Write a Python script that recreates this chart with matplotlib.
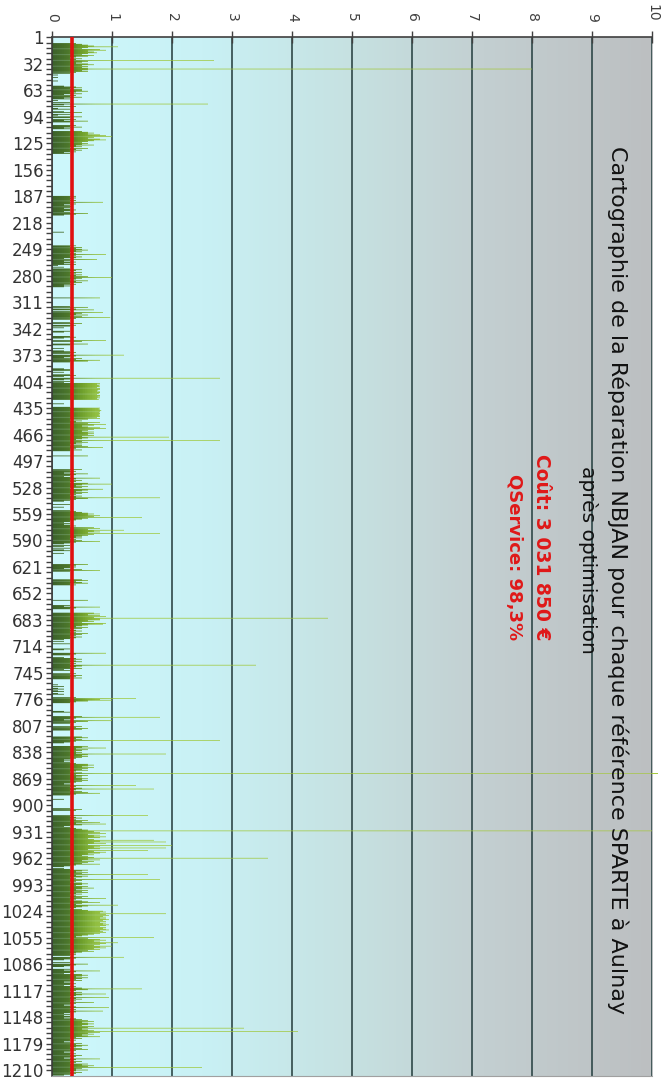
import numpy as np
import matplotlib
matplotlib.use("Agg")
import matplotlib.pyplot as plt
from matplotlib.colors import LinearSegmentedColormap
from matplotlib.path import Path

# NBJAN par reference SPARTE (une ligne = 31 references)
nbjan = [
    0, 0, 0, 0, 0, 0, 0, 0.4, 0.5, 0.6, 0.7, 1.1, 0.6, 0.5, 0.8, 0.9, 0.6, 0.7, 0.75, 0.6, 0.5, 0.7, 0.6, 0.4, 0.3, 0.5, 0.4, 2.7, 0.6, 0.5, 0.4,
    0.6, 0.7, 0.5, 0.6, 0.5, 0.6, 8.0, 0.6, 0.5, 0.6, 0.4, 0.3, 0, 0.1, 0, 0, 0.1, 0, 0, 0, 0.1, 0, 0, 0, 0, 0, 0.2, 0.4, 0.5, 0.3, 0.5,
    0.5, 0.6, 0.4, 0.3, 0.5, 0.2, 0.4, 0.3, 0.5, 0.2, 0.3, 0, 0.1, 0, 0.3, 0, 2.6, 0.2, 0, 0.4, 0, 0.1, 0.3, 0, 0, 0.2, 0.5, 0, 0.3, 0.1, 0,
    0.5, 0.3, 0, 0.4, 0.2, 0.6, 0.3, 0, 0, 0, 0.4, 0.3, 0.5, 0.2, 0.3, 0, 0, 0.5, 0.6, 0.7, 0.6, 0.8, 0.9, 1.0, 0.7, 0.6, 0.8, 0.9, 0.7, 0.6, 0.5,
    0.6, 0.5, 0.7, 0.4, 0.5, 0.3, 0.6, 0.4, 0.5, 0.3, 0.4, 0.2, 0.3, 0, 0, 0, 0, 0, 0, 0, 0, 0, 0, 0, 0, 0, 0, 0, 0, 0, 0,
    0, 0, 0, 0, 0, 0, 0, 0, 0, 0, 0, 0, 0, 0, 0, 0, 0, 0, 0, 0, 0, 0, 0, 0, 0, 0, 0, 0, 0, 0, 0,
    0.4, 0.3, 0.4, 0.35, 0.3, 0.4, 0.3, 0.85, 0.3, 0.4, 0.2, 0.3, 0.35, 0.3, 0.2, 0.3, 0.4, 0.3, 0.2, 0.3, 0.6, 0.4, 0.2, 0, 0, 0, 0, 0, 0, 0, 0,
    0, 0, 0, 0, 0, 0, 0, 0, 0, 0, 0, 0.2, 0, 0, 0, 0, 0, 0, 0, 0, 0, 0, 0, 0, 0, 0, 0, 0.4, 0.3, 0.5, 0.4,
    0.5, 0.6, 0.4, 0.5, 0.3, 0.4, 0.9, 0.4, 0.3, 0.5, 0.4, 0.2, 0.75, 0.3, 0.2, 0.4, 0.3, 0.2, 0.4, 0.1, 0, 0.2, 0, 0.3, 0.5, 0.4, 0.3, 0.5, 0.4, 0.3, 0.5,
    0.4, 0.6, 1.0, 0.5, 0.4, 0.3, 0.6, 0.4, 0.5, 0.3, 0.4, 0.2, 0.3, 0.2, 0, 0, 0, 0, 0, 0, 0, 0, 0, 0, 0, 0, 0.8, 0, 0, 0, 0,
    0, 0, 0, 0, 0, 0.3, 0.6, 0, 0.4, 0.7, 0, 0.3, 0.85, 0.5, 0.4, 0.6, 0.3, 0.5, 0.97, 0.4, 0.3, 0, 0, 0, 0.3, 0.5, 0, 0.4, 0.3, 0, 0.2,
    0, 0, 0, 0.3, 0.2, 0, 0, 0, 0, 0.3, 0.4, 0.2, 0, 0, 0.9, 0.5, 0, 0, 0.6, 0.3, 0, 0, 0, 0.2, 0, 0, 0.2, 0.3, 0.4, 0.3, 0,
    1.2, 0.4, 0.3, 0.2, 0.5, 0.4, 0.8, 0.6, 0.3, 0, 0, 0, 0, 0, 0, 0, 0.2, 0.3, 0.3, 0, 0.2, 0, 0, 0.3, 0.4, 0.2, 0, 2.8, 0.3, 0.2, 0,
    0.3, 0.2, 0.8, 0.75, 0.8, 0.78, 0.8, 0.75, 0.8, 0.8, 0.77, 0.75, 0.8, 0.8, 0.78, 0.75, 0.8, 0.8, 0.76, 0.8, 0.75, 0.78, 0, 0, 0, 0, 0.2, 0, 0, 0, 0.3,
    0.8, 0.78, 0.8, 0.82, 0.8, 0.79, 0.8, 0.8, 0.78, 0.8, 0.8, 0.75, 0.8, 0.6, 0.3, 0.5, 0.4, 0.8, 0.6, 0.9, 0.7, 0.5, 0.6, 0.8, 0.9, 0.7, 0.6, 0.5, 0.7, 0.6, 0.7,
    0.6, 0.7, 0.5, 1.95, 0.6, 0.5, 0.4, 2.8, 0.5, 0.6, 0.4, 0.5, 0.3, 0.5, 0.6, 0.85, 0.4, 0.3, 0.5, 0.3, 0, 0, 0, 0, 0, 0.6, 0, 0, 0, 0, 0,
    0, 0, 0, 0, 0, 0, 0, 0, 0, 0, 0.5, 0.3, 0.4, 0.3, 0.2, 0.6, 0.4, 0.3, 0.2, 0.3, 0.8, 0.4, 0.3, 0.5, 0.4, 0.3, 0.6, 1.0, 0.5, 0.4, 0.6,
    0.5, 0.3, 0.85, 0.6, 0.5, 0.4, 0.6, 0.5, 0.4, 0.3, 0.5, 0.4, 1.8, 0.6, 0.4, 0.3, 0.2, 0, 0, 0, 0.3, 0, 0, 0.2, 0, 0, 0, 0.3, 0.4, 0.5, 0.6,
    0.7, 0.6, 0.8, 0.7, 1.5, 0.6, 0.5, 0.4, 0.3, 0.3, 0.2, 0.3, 0.2, 0.3, 0.4, 0.3, 0.7, 0.8, 0.6, 1.2, 0.7, 0.8, 0.6, 1.8, 0.7, 0.6, 0.5, 0.4, 0.5, 0.3, 0.4,
    0.5, 0.8, 0.4, 0.3, 0.2, 0, 0.3, 0.2, 0, 0.3, 0, 0.2, 0.3, 0, 0, 0.2, 0, 0, 0, 0, 0, 0, 0, 0, 0, 0, 0, 0, 0.6, 0.4, 0.3,
    0.4, 0.3, 0.2, 0.5, 0.8, 0.3, 0, 0, 0, 0, 0, 0, 0, 0, 0, 0.5, 0.6, 0.4, 0.5, 0.6, 0.3, 0.4, 0, 0, 0, 0, 0, 0, 0, 0, 0,
    0, 0, 0, 0, 0, 0, 0, 0, 0.6, 0, 0, 0, 0, 0, 0.3, 0.2, 0.8, 0.4, 0.3, 0, 0, 0, 0, 0.7, 0.8, 0.6, 0.8, 0.9, 0.7, 4.6, 0.8,
    0.8, 0.6, 0.7, 0.5, 0.9, 0.85, 0.6, 0.5, 0.4, 0.6, 0.5, 0.3, 0.4, 0.5, 0.3, 0.4, 0.6, 0.5, 0.4, 0.3, 0.5, 0.4, 0.3, 0.2, 0, 0.2, 0, 0, 0.3, 0, 0,
    0, 0, 0, 0.3, 0.2, 0, 0, 0, 0.9, 0.4, 0.3, 0, 0, 0.2, 0.4, 0.5, 0.3, 0.4, 0.5, 0.3, 0.4, 0.3, 3.4, 0.5, 0.4, 0.3, 0.5, 0.2, 0.3, 0, 0,
    0, 0.4, 0.3, 0.5, 0.4, 0.3, 0.5, 0.3, 0, 0, 0, 0, 0, 0, 0.1, 0, 0.2, 0, 0.1, 0.2, 0, 0.1, 0.2, 0, 0.1, 0.2, 0, 0, 0, 0.4, 1.4,
    0.8, 1.0, 0.6, 0.4, 0.3, 0, 0, 0, 0, 0, 0, 0, 0, 0, 0.2, 0.3, 0, 0, 0, 0, 0.5, 1.8, 0.4, 0.3, 0.2, 1.0, 0.6, 0.4, 0.3, 0, 0,
    0, 0.5, 0.4, 0.6, 0.5, 0.3, 0, 0, 0, 0, 0, 0, 0, 0.5, 0.6, 0.4, 0.5, 2.8, 0.4, 0.3, 0.2, 0, 0, 0, 0.6, 0.5, 0.9, 0.4, 0.6, 0.5, 0.4,
    0.5, 0.4, 1.9, 0.6, 0.5, 0.6, 0.5, 0.4, 0.3, 0.2, 0.3, 0.2, 0.3, 0.4, 0.6, 0.7, 0.6, 0.5, 0.7, 0.6, 0.5, 0.6, 0.4, 0.3, 0.5, 10.1, 0.4, 0.6, 0.5, 0.4, 0.5,
    0.6, 0.5, 0.6, 0.5, 0.4, 0.3, 0.2, 0.3, 1.4, 0.4, 0.3, 0.5, 1.7, 0.4, 0.3, 0.5, 0.6, 0.8, 0.4, 0.3, 0, 0, 0, 0, 0.2, 0, 0, 0, 0, 0, 0,
    0, 0, 0, 0, 0.3, 0.5, 0.4, 0, 0, 0, 0, 0, 1.6, 0.3, 0.4, 0.5, 0.3, 0.4, 0.6, 0.5, 0.8, 0.4, 0.9, 0.5, 0.3, 0.2, 0.3, 0.4, 0.5, 0.6, 10.1,
    0.7, 0.8, 0.9, 0.6, 0.8, 0.7, 0.9, 0.8, 0.6, 0.7, 1.7, 0.8, 1.9, 0.7, 0.9, 0.6, 2.0, 0.8, 0.7, 1.9, 0.8, 0.6, 1.6, 0.7, 0.9, 0.8, 0.6, 0.7, 0.5, 0.6, 0.7,
    3.6, 0.6, 0.8, 0.5, 0.7, 0.6, 0.5, 0.8, 0.4, 0.3, 0.2, 0, 0.2, 0.3, 0.6, 0.5, 0.4, 0.6, 0.5, 1.6, 0.4, 0.6, 0.5, 0.3, 0.4, 1.8, 0.5, 0.4, 0.3, 0.5, 0.6,
    0.5, 0.4, 0.6, 0.5, 0.7, 0.5, 0.4, 0.6, 0.5, 0.6, 0.4, 0.5, 0.3, 0.4, 0.6, 0.5, 0.9, 0.4, 0.3, 0.5, 0.6, 0.8, 0.5, 0.4, 1.1, 0.6, 0.5, 0.4, 0.3, 0.5, 0.6,
    0.85, 0.9, 0.8, 1.9, 0.9, 0.95, 0.85, 0.9, 0.8, 0.9, 0.95, 0.85, 0.9, 0.8, 0.9, 0.85, 0.95, 0.9, 0.8, 0.9, 0.85, 0.9, 0.95, 0.8, 0.85, 0.9, 0.8, 0.7, 0.6, 0.5, 0.4,
    1.7, 0.6, 0.8, 0.9, 0.7, 0.8, 1.1, 0.9, 0.8, 0.7, 1.0, 0.8, 0.9, 0.7, 0.8, 0.6, 0.7, 0.5, 0.4, 0.3, 0.4, 0.3, 0, 1.2, 0.4, 0.3, 0.2, 0, 0, 0.3, 0,
    0.6, 0.4, 0.3, 0.2, 0, 0, 0.3, 0.2, 0.8, 0.4, 0.3, 0.2, 0.5, 0.6, 0.5, 0.4, 0.6, 0.5, 0.4, 0.5, 0.3, 0.2, 0.3, 0.4, 0.3, 0.2, 0.4, 0.3, 0.5, 1.5, 0.6,
    0.4, 0.3, 0.5, 0.4, 0.9, 0.5, 0.4, 0.3, 0.95, 0.4, 0.5, 0.3, 0.4, 0.3, 0.7, 0.4, 0.3, 0.2, 0.3, 0.4, 0.95, 0.3, 0.4, 0.3, 0.85, 0.4, 0.3, 0.2, 0.3, 0.2, 0.3,
    0.3, 0.2, 0.4, 0.5, 0.6, 0.7, 0.5, 0.6, 0.7, 0.6, 0.5, 0.7, 0.6, 3.2, 0.5, 0.6, 0.7, 4.1, 0.8, 0.6, 0.7, 0.5, 0.6, 0.8, 0.4, 0.5, 0.3, 0.4, 0.3, 0.2, 0.3,
    0.5, 0.4, 0.6, 0.5, 0.4, 0.3, 0.5, 0.6, 0.4, 0.3, 0.2, 0.3, 0.4, 0.3, 0.5, 0.4, 0.3, 0.2, 0.8, 0.4, 0.3, 0.5, 0.4, 0.3, 0.6, 0.5, 0.7, 0.6, 2.5, 0.5, 0.4,
    0.6, 0.4, 0.3, 0.5, 0.4, 0.3, 0.2,
]
references = np.arange(1, len(nbjan) + 1)
tick_refs = list(range(1, 1211, 31))
seuil = 0.33   # ligne rouge

title_1 = "Cartographie de la Réparation NBJAN pour chaque référence SPARTE à Aulnay"
title_2 = "après optimisation"
cout_txt = "Coût: 3 031 850 €"
qs_txt = "QService: 98,3%"

# couleurs
bg_cmap = LinearSegmentedColormap.from_list(
    "fond", [(0.0, "#cdf8fc"), (0.25, "#c9f1f5"), (0.5, "#c6e1e1"),
             (0.72, "#c3cfd1"), (1.0, "#bcbfc1")])
bar_cmap = LinearSegmentedColormap.from_list(
    "barres", [(0.0, "#1f4400"), (0.025, "#335e00"), (0.045, "#578a00"),
               (0.07, "#86b41c"), (0.11, "#9cc630"), (1.0, "#a6c840")])

fig = plt.figure(figsize=(6.72, 10.84), dpi=100)
ax = fig.add_axes([52 / 672, 1 - 1076 / 1084, 600 / 672, 1039 / 1084])

ymin, ymax = 0.5, len(nbjan) + 1

# fond en degrade
ax.imshow(np.linspace(0, 1, 256).reshape(1, -1), extent=[0, 10, ymax, ymin],
          aspect="auto", cmap=bg_cmap, zorder=0, interpolation="bilinear")

# barres : forme par barh, remplissage en degrade
bars = ax.barh(references, nbjan, height=0.8, color="none", linewidth=0)
paths = [b.get_path().transformed(b.get_patch_transform()) for b in bars.patches]
clip = Path.make_compound_path(*paths)
fill = ax.imshow(np.linspace(0, 10, 1000).reshape(1, -1), extent=[0, 10, ymax, ymin],
                 aspect="auto", cmap=bar_cmap, vmin=0, vmax=10, zorder=2,
                 interpolation="bilinear")
fill.set_clip_path(clip, ax.transData)

# barres qui depassent 10
for r, v in zip(references, nbjan):
    if v > 10:
        ax.barh(r, v - 10, left=10, height=0.8, color="#a6c840", linewidth=0,
                clip_on=False, zorder=2)

ax.axvline(seuil, color="#e01010", lw=2.6, zorder=4)

ax.set_xlim(0, 10)
ax.set_ylim(ymax, ymin)
ax.set_xticks(range(11))
ax.xaxis.tick_top()
ax.set_yticks(tick_refs)
ax.set_yticks(np.arange(1, len(nbjan), 6.2), minor=True)

ax.tick_params(axis="x", direction="inout", length=8, width=1, color="#404040",
               labelsize=10, labelcolor="#404040", pad=7, labelrotation=-90)
ax.tick_params(axis="y", which="both", direction="out", length=4, width=1,
               color="#404040", labelsize=12, labelcolor="#333333", pad=2)

ax.set_axisbelow(True)
ax.grid(axis="x", color="#2f4848", lw=1.2)

ax.spines["right"].set_visible(False)
ax.spines["left"].set_color("#404040")
ax.spines["left"].set_linewidth(1.2)
ax.spines["top"].set_color("#404040")
ax.spines["top"].set_linewidth(1.2)
ax.spines["bottom"].set_color("#a0a0a0")

# titres tournes
fig.text(618 / 672, 1 - 580 / 1084, title_1, rotation=-90, rotation_mode="anchor",
         ha="center", va="center", fontsize=16, color="#111111")
fig.text(588 / 672, 1 - 560 / 1084, title_2, rotation=-90, rotation_mode="anchor",
         ha="center", va="center", fontsize=14.5, color="#111111")
fig.text(541 / 672, 1 - 640 / 1084, cout_txt, rotation=-90, rotation_mode="anchor",
         ha="right", va="center", fontsize=13.5, color="#e01818", fontweight="bold")
fig.text(514 / 672, 1 - 640 / 1084, qs_txt, rotation=-90, rotation_mode="anchor",
         ha="right", va="center", fontsize=13, color="#e01818", fontweight="bold")

fig.savefig("out.png", dpi=100)
